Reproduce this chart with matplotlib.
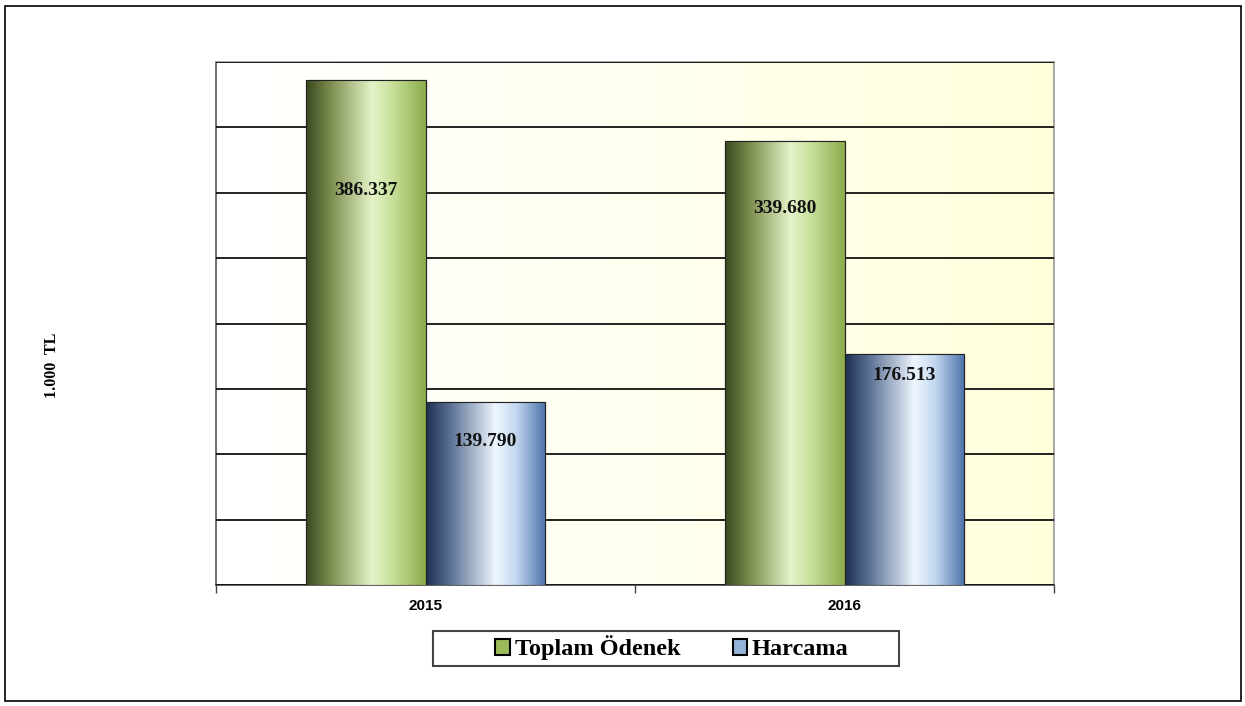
import matplotlib
matplotlib.use("Agg")
import matplotlib.pyplot as plt
import numpy as np
from matplotlib.colors import LinearSegmentedColormap
from matplotlib.patches import Rectangle

years = ["2015", "2016"]
series_names = ["Toplam Ödenek", "Harcama"]
toplam_odenek = [386.337, 339.680]
harcama = [139.790, 176.513]
value_labels = [["386.337", "339.680"], ["139.790", "176.513"]]

SERIF = ["Liberation Serif", "DejaVu Serif"]
SANS = ["Liberation Sans", "DejaVu Sans"]

green_cmap = LinearSegmentedColormap.from_list(
    "g", [(0, "#3a4820"), (0.2, "#7a8c4c"), (0.55, "#e4f4c8"), (0.72, "#c8e09a"), (1, "#8cab4c")])
blue_cmap = LinearSegmentedColormap.from_list(
    "b", [(0, "#1c3052"), (0.2, "#5a7094"), (0.58, "#eef6ff"), (0.75, "#c4d8f0"), (1, "#4b72aa")])
bg_cmap = LinearSegmentedColormap.from_list("bg", ["#ffffff", "#fffff0", "#ffffdc"])

fig = plt.figure(figsize=(12.45, 7.06), dpi=100)
ax = fig.add_axes([216 / 1245, 1 - 585 / 706, (1054 - 216) / 1245, (585 - 62) / 706])

# background gradient
grad = np.linspace(0, 1, 256).reshape(1, -1)
ax.imshow(grad, cmap=bg_cmap, aspect="auto", extent=(0, 1, 0, 1),
          transform=ax.transAxes, zorder=0)

x = np.arange(len(years))
w = 0.286
bars1 = ax.bar(x - w / 2, toplam_odenek, w, color="#9bbb59", edgecolor="#222222",
               linewidth=0.8, zorder=3, label=series_names[0])
bars2 = ax.bar(x + w / 2, harcama, w, color="#95b3d7", edgecolor="#222222",
               linewidth=0.8, zorder=3, label=series_names[1])

# horizontal gradients clipped to each bar
for bars, cmap in ((bars1, green_cmap), (bars2, blue_cmap)):
    for b in bars:
        bx, by = b.get_x(), b.get_y()
        bw, bh = b.get_width(), b.get_height()
        im = ax.imshow(grad, cmap=cmap, aspect="auto",
                       extent=(bx, bx + bw, by, by + bh), zorder=3.5)
        im.set_clip_path(b)
        ax.add_patch(Rectangle((bx, by), bw, bh, fill=False, edgecolor="#222222",
                               linewidth=0.8, zorder=4))

# value labels (placed inside bars)
label_y = [[302, 288], [110, 160]]
for bars, labels, ys in ((bars1, value_labels[0], label_y[0]), (bars2, value_labels[1], label_y[1])):
    for b, lab, yy in zip(bars, labels, ys):
        ax.text(b.get_x() + b.get_width() / 2, yy, lab, ha="center", va="center",
                fontsize=14, fontweight="bold", family=SERIF, color="#111111", zorder=5)

ax.set_xlim(-0.5, 1.5)
ax.set_ylim(0, 400)
ax.set_yticks(np.arange(0, 401, 50))
ax.yaxis.grid(True, color="#111111", linewidth=1.3, zorder=1)
ax.set_axisbelow(False)
ax.tick_params(axis="y", left=False, labelleft=False)

ax.set_xticks(x)
ax.set_xticklabels(years, fontsize=11, fontweight="bold", family=SANS)
ax.tick_params(axis="x", length=0, pad=10)
ax.set_xticks([-0.5, 0.5, 1.5], minor=True)
ax.tick_params(axis="x", which="minor", length=6, color="#444444", width=1)

for side in ("left", "right", "top"):
    ax.spines[side].set_color("#999999")
    ax.spines[side].set_linewidth(1.2)
ax.spines["left"].set_color("#555555")
ax.spines["bottom"].set_color("#444444")
ax.spines["bottom"].set_linewidth(1.2)

fig.text(52 / 1245, 1 - 365 / 706, "1.000  TL", rotation=90, ha="center", va="center",
         fontsize=11.5, fontweight="bold", family=SERIF)

handles = [Rectangle((0, 0), 1, 1, facecolor="#9bbb59", edgecolor="black", linewidth=1.5),
           Rectangle((0, 0), 1, 1, facecolor="#95b3d7", edgecolor="black", linewidth=1.5)]
leg = fig.legend(handles, series_names, loc="center", bbox_to_anchor=(672 / 1245, 1 - 648 / 706),
                 ncol=2, frameon=False, handlelength=0.6, handleheight=0.6,
                 handletextpad=0.2, columnspacing=2.15, borderpad=0.25,
                 prop={"family": SERIF, "weight": "bold", "size": 17.5})
# legend frame
fig.add_artist(Rectangle((433 / 1245, 1 - 666 / 706), (899 - 433) / 1245, 35 / 706,
                         transform=fig.transFigure, fill=False, edgecolor="#444444", linewidth=1.5))

# outer figure border
fig.add_artist(Rectangle((5 / 1245, 5 / 706), 1236 / 1245, 695 / 706, transform=fig.transFigure,
                         fill=False, edgecolor="black", linewidth=1.2))

fig.savefig("out.png", dpi=100)
